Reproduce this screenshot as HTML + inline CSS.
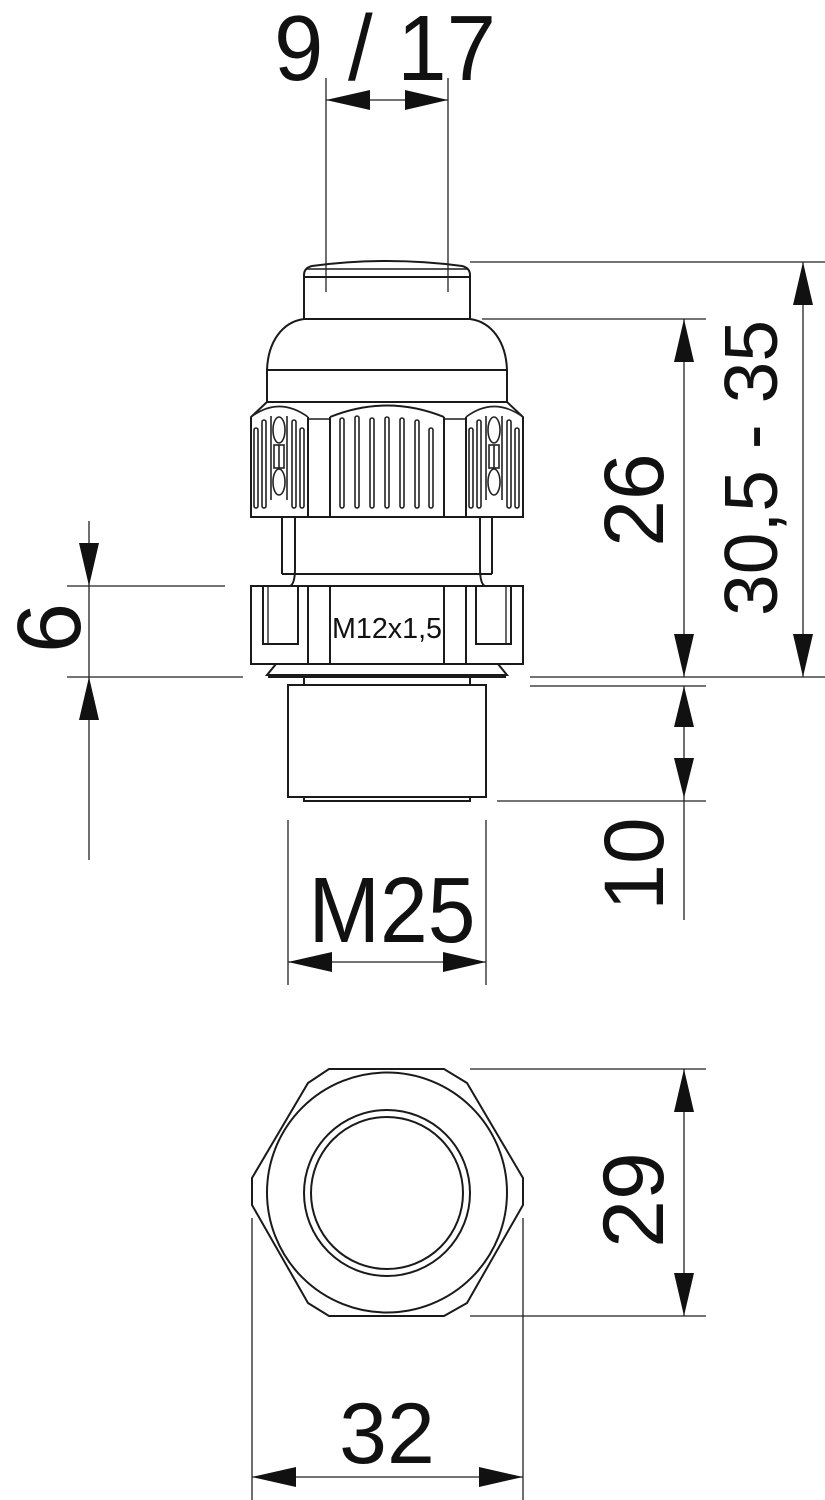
<!DOCTYPE html>
<html><head><meta charset="utf-8"><style>
html,body{margin:0;padding:0;background:#fff;}
svg{display:block;}
text{font-family:"Liberation Sans",Arial,sans-serif;fill:#111;}
</style></head><body>
<svg width="825" height="1500" viewBox="0 0 825 1500" xmlns="http://www.w3.org/2000/svg">
<defs>
<g id="sect" fill="none" stroke="#222" stroke-width="1.6">
  <rect x="254" y="428" width="4" height="80" rx="2"/>
  <rect x="262" y="420" width="4" height="88" rx="2"/>
  <line x1="271" y1="416" x2="271" y2="500"/>
  <line x1="287" y1="416" x2="287" y2="500"/>
  <ellipse cx="279" cy="430" rx="6" ry="13"/>
  <ellipse cx="279" cy="482" rx="6" ry="13"/>
  <rect x="274" y="445" width="10" height="23"/>
  <line x1="279" y1="445" x2="279" y2="468"/>
  <rect x="292" y="420" width="4" height="88" rx="2"/>
  <rect x="300" y="428" width="4" height="80" rx="2"/>
  <path d="M251,417 Q279,396 308,417"/>
</g>
</defs>

<g fill="none" stroke="#1a1a1a" stroke-width="2">
  <path d="M304,319 L304,275 Q304,268 312,266 Q387,256 462,266 Q470,268 470,275 L470,319"/>
  <line x1="306" y1="269" x2="468" y2="269" stroke-width="1.5"/>
  <line x1="304" y1="277" x2="470" y2="277"/>
  <line x1="304" y1="319" x2="470" y2="319"/>
  <path d="M304,319 C282,322 268,342 267,370 L267,402"/>
  <path d="M470,319 C492,322 506,342 507,370 L507,402"/>
  <line x1="267" y1="370" x2="507" y2="370"/>
  <line x1="267" y1="402" x2="507" y2="402"/>
  <path d="M267,402 L251,417 L251,517 L523,517 L523,417 L507,402"/>
  <line x1="308" y1="417" x2="308" y2="517"/>
  <line x1="330" y1="417" x2="330" y2="517"/>
  <line x1="444" y1="417" x2="444" y2="517"/>
  <line x1="466" y1="417" x2="466" y2="517"/>
  <line x1="308" y1="419" x2="330" y2="419" stroke-width="1.5"/>
  <line x1="444" y1="419" x2="466" y2="419" stroke-width="1.5"/>
  <path d="M330,417 Q387,394 444,417"/>
</g>
<use href="#sect"/>
<use href="#sect" transform="translate(215,0)"/>
<g fill="none" stroke="#222" stroke-width="1.6">
  <rect x="340" y="418" width="4" height="90" rx="2"/>
  <rect x="355" y="416" width="4" height="92" rx="2"/>
  <rect x="370" y="418" width="4" height="90" rx="2"/>
  <rect x="385" y="417" width="4" height="91" rx="2"/>
  <rect x="400" y="418" width="4" height="90" rx="2"/>
  <rect x="415" y="420" width="4" height="88" rx="2"/>
  <rect x="429" y="428" width="4" height="80" rx="2"/>
</g>
<g fill="none" stroke="#1a1a1a" stroke-width="2">
  <line x1="282" y1="517" x2="282" y2="574"/>
  <line x1="295" y1="517" x2="295" y2="568"/>
  <line x1="480" y1="517" x2="480" y2="568"/>
  <line x1="492" y1="517" x2="492" y2="574"/>
  <line x1="282" y1="574" x2="492" y2="574"/>
  <path d="M295,568 Q295,584 290,586"/>
  <path d="M480,568 Q480,584 485,586"/>
  <rect x="251" y="586" width="272" height="78"/>
  <line x1="308" y1="586" x2="308" y2="664"/>
  <line x1="330" y1="586" x2="330" y2="664"/>
  <line x1="444" y1="586" x2="444" y2="664"/>
  <line x1="466" y1="586" x2="466" y2="664"/>
  <path d="M263,586 L263,644 L298,644 L298,586"/>
  <path d="M476,586 L476,644 L511,644 L511,586"/>
  <line x1="268" y1="586" x2="268" y2="644" stroke-width="1.3"/>
  <line x1="506" y1="586" x2="506" y2="644" stroke-width="1.3"/>
  <path d="M276,664 L267,675 L507,675 L498,664"/>
  <line x1="268" y1="677" x2="506" y2="677"/>
  <rect x="304" y="677" width="166" height="8"/>
  <rect x="288" y="685" width="198" height="112"/>
  <rect x="304" y="797" width="166" height="4"/>
</g>
<text x="387" y="638" font-size="29" text-anchor="middle" textLength="110" lengthAdjust="spacingAndGlyphs">M12x1,5</text>

<g fill="none" stroke="#1a1a1a" stroke-width="2">
  <polygon points="329,1069 444,1069 467,1083 523,1178 523,1205 467,1303 444,1316 329,1316 308,1303 252,1205 252,1178 308,1083"/>
  <circle cx="387" cy="1192.5" r="120"/>
  <circle cx="387" cy="1193" r="83"/>
  <circle cx="387" cy="1193" r="76"/>
</g>

<g stroke="#222" stroke-width="1.3" fill="none">
  <line x1="326" y1="78" x2="326" y2="292"/>
  <line x1="448" y1="78" x2="448" y2="292"/>
  <line x1="326" y1="100" x2="448" y2="100"/>
  <line x1="470" y1="262" x2="825" y2="262"/>
  <line x1="530" y1="677" x2="825" y2="677"/>
  <line x1="803" y1="262" x2="803" y2="677"/>
  <line x1="482" y1="319" x2="706" y2="319"/>
  <line x1="684" y1="319" x2="684" y2="677"/>
  <line x1="530" y1="686" x2="706" y2="686"/>
  <line x1="497" y1="801" x2="706" y2="801"/>
  <line x1="684" y1="686" x2="684" y2="920"/>
  <line x1="67" y1="586" x2="225" y2="586"/>
  <line x1="67" y1="677" x2="243" y2="677"/>
  <line x1="89" y1="521" x2="89" y2="860"/>
  <line x1="288" y1="820" x2="288" y2="985"/>
  <line x1="486" y1="820" x2="486" y2="985"/>
  <line x1="288" y1="962" x2="486" y2="962"/>
  <line x1="470" y1="1069" x2="706" y2="1069"/>
  <line x1="470" y1="1316" x2="706" y2="1316"/>
  <line x1="684" y1="1069" x2="684" y2="1316"/>
  <line x1="252" y1="1218" x2="252" y2="1500"/>
  <line x1="523" y1="1218" x2="523" y2="1500"/>
  <line x1="252" y1="1477" x2="523" y2="1477"/>
</g>
<g fill="#111">
  <polygon points="326,100 370,90 370,110"/>
  <polygon points="448,100 405,90 405,110"/>
  <polygon points="803,262 793,305 813,305"/>
  <polygon points="803,677 793,634 813,634"/>
  <polygon points="684,319 674,362 694,362"/>
  <polygon points="684,677 674,634 694,634"/>
  <polygon points="684,686 674,727 694,727"/>
  <polygon points="684,798 674,758 694,758"/>
  <polygon points="89,586 79,543 99,543"/>
  <polygon points="89,677 79,720 99,720"/>
  <polygon points="288,962 332,952 332,972"/>
  <polygon points="486,962 443,952 443,972"/>
  <polygon points="684,1069 674,1112 694,1112"/>
  <polygon points="684,1316 674,1273 694,1273"/>
  <polygon points="252,1477 296,1467 296,1487"/>
  <polygon points="523,1477 479,1467 479,1487"/>
</g>

<text x="385" y="80" font-size="93" text-anchor="middle" textLength="222" lengthAdjust="spacingAndGlyphs">9 / 17</text>
<text x="392" y="942" font-size="93" text-anchor="middle" textLength="167" lengthAdjust="spacingAndGlyphs">M25</text>
<text x="387" y="1463" font-size="86" text-anchor="middle">32</text>
<text transform="translate(777,468) rotate(-90)" font-size="75" text-anchor="middle">30,5 - 35</text>
<text transform="translate(663,500) rotate(-90)" font-size="84" text-anchor="middle">26</text>
<text transform="translate(663,864) rotate(-90)" font-size="84" text-anchor="middle">10</text>
<text transform="translate(663,1200) rotate(-90)" font-size="86" text-anchor="middle">29</text>
<text transform="translate(80,628) rotate(-90)" font-size="90" text-anchor="middle">6</text>
</svg>
</body></html>
